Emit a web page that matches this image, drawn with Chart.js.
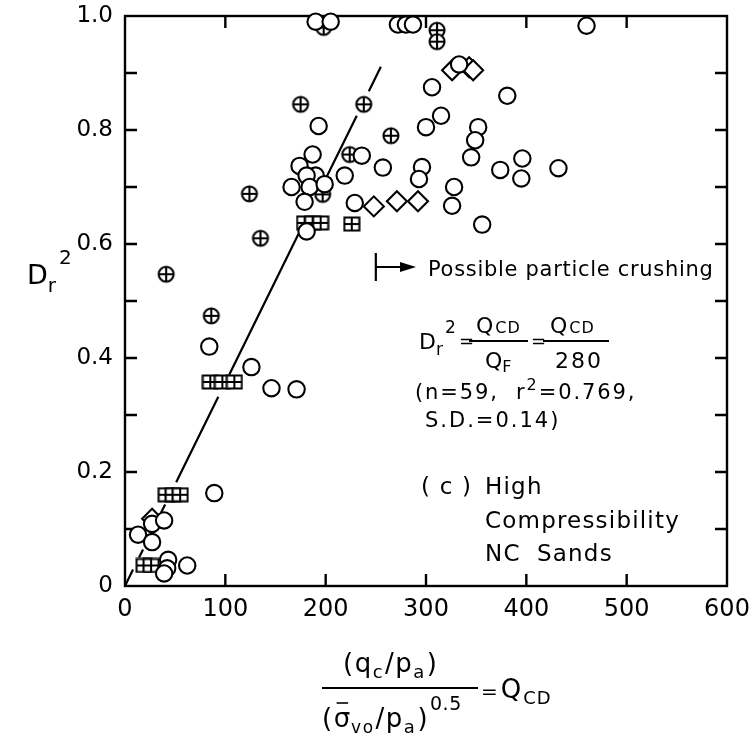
<!DOCTYPE html>
<html>
<head>
<meta charset="utf-8">
<script src="https://cdn.jsdelivr.net/npm/chart.js@4.4.1/dist/chart.umd.min.js"></script>
<style>
  html, body { margin: 0; padding: 0; background: #fff; }
  #wrap { width: 749px; height: 738px; }
</style>
</head>
<body>
<div id="wrap"><canvas id="chart" width="749" height="738"></canvas></div>
<script>
// Q_CD (x) and Dr^2 (y) for each symbol type
const circleQ = [190, 205, 272, 280, 287, 460,
  193, 187, 174, 190, 181, 166, 184, 199, 179, 181,
  236, 219, 229, 257, 296, 293, 306, 315, 300, 333, 352, 349, 345, 328, 326, 356, 381, 374, 396, 395, 432,
  84, 126, 146, 171, 89,
  27, 39, 13, 27, 43, 42, 39, 62];
const circleDr = [0.99, 0.99, 0.985, 0.985, 0.985, 0.983,
  0.807, 0.757, 0.737, 0.72, 0.72, 0.70, 0.70, 0.705, 0.674, 0.622,
  0.755, 0.72, 0.672, 0.734, 0.735, 0.714, 0.875, 0.825, 0.805, 0.915, 0.805, 0.782, 0.752, 0.70, 0.667, 0.634, 0.86, 0.73, 0.75, 0.715, 0.733,
  0.42, 0.384, 0.347, 0.345, 0.163,
  0.109, 0.115, 0.09, 0.077, 0.046, 0.031, 0.022, 0.036];

const crossQ = [198, 311, 311, 175, 238, 265, 224, 197, 124, 135, 41, 86];
const crossDr = [0.98, 0.975, 0.955, 0.845, 0.845, 0.79, 0.757, 0.687, 0.688, 0.61, 0.547, 0.474];

const boxQ = [179, 187, 195, 226, 85, 97, 109, 41, 48, 55, 19, 26];
const boxDr = [0.637, 0.637, 0.637, 0.635, 0.358, 0.358, 0.358, 0.16, 0.16, 0.16, 0.036, 0.036];

const diamondQ = [326, 343, 347, 248, 271, 292, 27];
const diamondDr = [0.905, 0.91, 0.905, 0.666, 0.675, 0.675, 0.118];

// fitted line Dr^2 = Q_CD / 280, broken where it meets the symbols
const fitQ = [0, 8, 11, 14, 18, 27, 36, 40, 45, 51, 93, 98, 104, 173, 187, 201, 231, 237, 243, 255];
const fitDr = [0, 0.029, null, 0.05, 0.064, null, 0.129, 0.143, null, 0.182, 0.332, null, 0.371, 0.618, null, 0.718, 0.825, null, 0.868, 0.911];

const xTicks = [0, 100, 200, 300, 400, 500, 600];
const yTicks = [0, 0.1, 0.2, 0.3, 0.4, 0.5, 0.6, 0.7, 0.8, 0.9, 1.0];

const FONT = '"DejaVu Sans", sans-serif';
const font = size => `${size}px ${FONT}`;

function pairs(xs, ys) {
  return xs.map((x, i) => ({ x: x, y: ys[i] }));
}

// circle with a plus inside
function crossCircle() {
  const c = document.createElement('canvas');
  c.width = 20; c.height = 20;
  const g = c.getContext('2d');
  g.fillStyle = '#fff';
  g.strokeStyle = '#000';
  g.lineWidth = 2.1;
  g.beginPath(); g.arc(10, 10, 7.5, 0, Math.PI * 2); g.fill(); g.stroke();
  g.beginPath();
  g.moveTo(2.5, 10); g.lineTo(17.5, 10);
  g.moveTo(10, 2.5); g.lineTo(10, 17.5);
  g.stroke();
  return c;
}

// square split into four cells
function gridBox() {
  const c = document.createElement('canvas');
  c.width = 18; c.height = 16;
  const g = c.getContext('2d');
  g.fillStyle = '#fff';
  g.strokeStyle = '#000';
  g.lineWidth = 2;
  g.fillRect(1.5, 1.5, 15, 13);
  g.strokeRect(1.5, 1.5, 15, 13);
  g.beginPath();
  g.moveTo(9, 1.5); g.lineTo(9, 14.5);
  g.moveTo(1.5, 8); g.lineTo(16.5, 8);
  g.stroke();
  return c;
}

// draws a run of text pieces; dy shifts sub/superscripts
function rich(ctx, x, y, parts, spacing) {
  ctx.letterSpacing = (spacing || 0) + 'px';
  parts.forEach(p => {
    ctx.font = font(p.size);
    ctx.fillText(p.t, x, y + (p.dy || 0));
    x += ctx.measureText(p.t).width + (p.gap || 0);
  });
  ctx.letterSpacing = '0px';
  return x;
}

const frame = {
  id: 'frame',
  beforeDatasetsDraw(chart) {
    const { ctx, chartArea: a, scales: { x, y } } = chart;
    ctx.save();
    ctx.strokeStyle = '#000';
    ctx.lineWidth = 2.4;
    ctx.strokeRect(a.left, a.top, a.right - a.left, a.bottom - a.top);
    ctx.beginPath();
    xTicks.slice(1, -1).forEach(v => {
      const px = x.getPixelForValue(v);
      ctx.moveTo(px, a.bottom); ctx.lineTo(px, a.bottom - 12);
      ctx.moveTo(px, a.top); ctx.lineTo(px, a.top + 12);
    });
    yTicks.slice(1, -1).forEach(v => {
      const py = y.getPixelForValue(v);
      ctx.moveTo(a.left, py); ctx.lineTo(a.left + 12, py);
      ctx.moveTo(a.right, py); ctx.lineTo(a.right - 12, py);
    });
    ctx.stroke();
    ctx.restore();
  }
};

const notes = {
  id: 'notes',
  afterDraw(chart) {
    const { ctx, scales: { x } } = chart;
    ctx.save();
    ctx.fillStyle = '#000';
    ctx.strokeStyle = '#000';
    ctx.textBaseline = 'alphabetic';
    ctx.textAlign = 'left';

    // crushing marker
    const bx = x.getPixelForValue(250);
    ctx.lineWidth = 2.2;
    ctx.beginPath();
    ctx.moveTo(bx, 253); ctx.lineTo(bx, 281);
    ctx.moveTo(bx, 267); ctx.lineTo(402, 267);
    ctx.stroke();
    ctx.beginPath();
    ctx.moveTo(400, 262); ctx.lineTo(416, 267); ctx.lineTo(400, 272);
    ctx.closePath(); ctx.fill();
    ctx.letterSpacing = '0.7px';
    ctx.font = font(21);
    ctx.fillText('Possible particle crushing', 428, 276);

    // fit equation
    rich(ctx, 419, 349, [{ t: 'D', size: 22 }, { t: 'r', size: 17, dy: 6, gap: -1 }]);
    ctx.font = font(17);
    ctx.fillText('2', 445, 333);
    ctx.font = font(18);
    ctx.fillText('=', 459, 347);
    ctx.fillText('=', 531, 347);
    ctx.lineWidth = 1.8;
    ctx.beginPath();
    ctx.moveTo(469, 341); ctx.lineTo(528, 341);
    ctx.moveTo(543, 341); ctx.lineTo(609, 341);
    ctx.stroke();
    rich(ctx, 476, 333, [{ t: 'Q', size: 22, gap: 1 }, { t: 'CD', size: 16 }], 1);
    rich(ctx, 485, 368, [{ t: 'Q', size: 22 }, { t: 'F', size: 16, dy: 4 }]);
    rich(ctx, 550, 333, [{ t: 'Q', size: 22, gap: 1 }, { t: 'CD', size: 16 }], 1);
    rich(ctx, 555, 368, [{ t: '280', size: 22 }], 2);
    rich(ctx, 415, 399, [
      { t: '(n=59,  r', size: 21 },
      { t: '2', size: 16, dy: -9 },
      { t: '=0.769,', size: 21 }
    ], 1.9);
    rich(ctx, 425, 427, [{ t: 'S.D.=0.14)', size: 21 }], 2);

    // panel caption
    ctx.letterSpacing = '1.2px';
    ctx.font = font(23);
    ctx.fillText('( c )', 421, 494);
    ctx.fillText('High', 485, 494);
    ctx.fillText('Compressibility', 485, 528);
    ctx.fillText('NC', 485, 561);
    ctx.fillText('Sands', 537, 561);
    ctx.letterSpacing = '0px';

    // y axis title
    rich(ctx, 27, 284, [{ t: 'D', size: 27 }, { t: 'r', size: 20, dy: 8 }]);
    ctx.font = font(20);
    ctx.fillText('2', 59, 264);

    // x axis title
    rich(ctx, 343, 672, [
      { t: '(q', size: 26 }, { t: 'c', size: 18, dy: 6, gap: 1 },
      { t: '/p', size: 26 }, { t: 'a', size: 18, dy: 6, gap: 1 },
      { t: ')', size: 26 }
    ], 1.5);
    ctx.lineWidth = 2.2;
    ctx.beginPath();
    ctx.moveTo(322, 688); ctx.lineTo(478, 688);
    ctx.stroke();
    rich(ctx, 481, 698, [{ t: '=', size: 20, gap: 2 }, { t: 'Q', size: 26, gap: 1 }, { t: 'CD', size: 18, dy: 6 }], 1);
    const end = rich(ctx, 322, 727, [{ t: '(', size: 26 }], 1.5);
    ctx.font = font(26);
    const sw = ctx.measureText('σ').width;
    ctx.fillText('σ', end, 727);
    ctx.lineWidth = 1.6;
    ctx.beginPath();
    ctx.moveTo(end + 3, 703); ctx.lineTo(end + sw - 2, 703);
    ctx.stroke();
    const end2 = rich(ctx, end + sw + 1, 727, [
      { t: 'vo', size: 17, dy: 6, gap: 1 },
      { t: '/p', size: 26 }, { t: 'a', size: 18, dy: 6, gap: 1 },
      { t: ')', size: 26 }
    ], 1.5);
    rich(ctx, end2 + 1, 710, [{ t: '0.5', size: 19 }], 0.5);

    ctx.restore();
  }
};

const markerBase = { borderColor: '#000', borderWidth: 2.1, backgroundColor: '#fff', clip: false };

new Chart(document.getElementById('chart'), {
  type: 'scatter',
  data: {
    datasets: [
      {
        type: 'line',
        label: 'fit',
        data: pairs(fitQ, fitDr),
        borderColor: '#000',
        borderWidth: 2.2,
        pointRadius: 0,
        spanGaps: false,
        fill: false
      },
      Object.assign({ label: 'circle', data: pairs(circleQ, circleDr), pointStyle: 'circle', pointRadius: 8.2 }, markerBase),
      Object.assign({ label: 'diamond', data: pairs(diamondQ, diamondDr), pointStyle: 'rectRot', pointRadius: 10 }, markerBase),
      Object.assign({ label: 'cross', data: pairs(crossQ, crossDr), pointStyle: crossCircle() }, markerBase),
      Object.assign({ label: 'box', data: pairs(boxQ, boxDr), pointStyle: gridBox() }, markerBase)
    ]
  },
  options: {
    responsive: false,
    animation: false,
    layout: { padding: { top: 16, right: 22, left: 0, bottom: 0 } },
    plugins: { legend: { display: false }, tooltip: { enabled: false } },
    scales: {
      x: {
        type: 'linear',
        min: 0,
        max: 600,
        afterBuildTicks: s => { s.ticks = xTicks.map(v => ({ value: v })); },
        afterFit: s => { s.height = 152; s.paddingLeft = 0; s.paddingRight = 0; },
        grid: { display: false, drawTicks: false },
        border: { display: false },
        ticks: { color: '#000', font: { family: FONT, size: 24 }, padding: 9, maxRotation: 0, autoSkip: false }
      },
      y: {
        type: 'linear',
        min: 0,
        max: 1,
        afterBuildTicks: s => { s.ticks = yTicks.map(v => ({ value: v })); },
        afterFit: s => { s.width = 125; s.paddingTop = 0; s.paddingBottom = 0; },
        grid: { display: false, drawTicks: false },
        border: { display: false },
        ticks: {
          color: '#000',
          font: { family: FONT, size: 23 },
          padding: 12,
          autoSkip: false,
          callback: v => {
            const tenth = Math.round(v * 10);
            if (tenth % 2 !== 0) return '';
            return tenth === 0 ? '0' : (tenth / 10).toFixed(1);
          }
        }
      }
    }
  },
  plugins: [frame, notes]
});
</script>
</body>
</html>
